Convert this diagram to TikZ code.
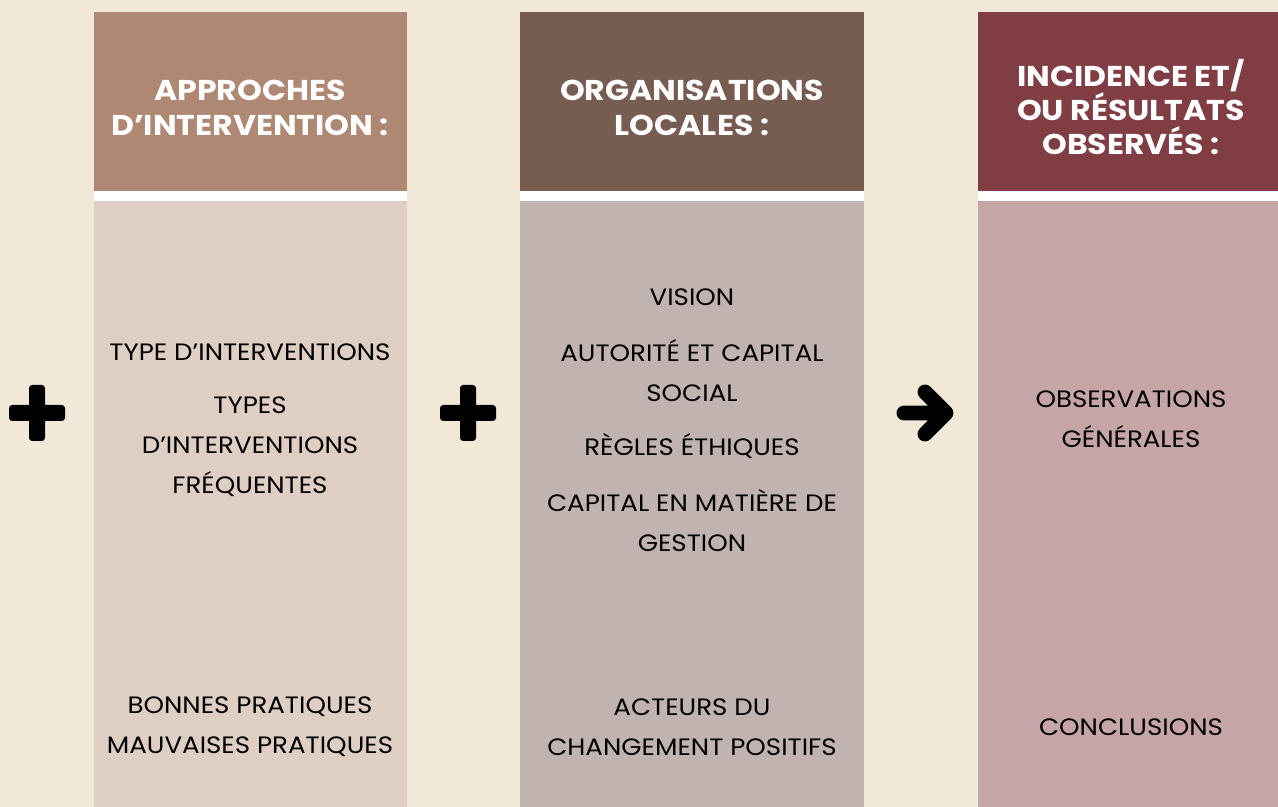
\documentclass[tikz,border=0pt]{standalone}
\usepackage{fontspec}
\setmainfont{Poppins}[FakeStretch=1.1]
\usepackage{tikz}

\definecolor{cream}{HTML}{F2E8D8}
\definecolor{hdA}{HTML}{AE8872}
\definecolor{bodyA}{HTML}{DECEC3}
\definecolor{hdB}{HTML}{775C52}
\definecolor{bodyB}{HTML}{C1B4B0}
\definecolor{hdC}{HTML}{813D44}
\definecolor{bodyC}{HTML}{C5A5A6}

\begin{document}
\begin{tikzpicture}[x=0.02cm,y=-0.02cm,
		hdlbl/.style={align=center,text=white,font=\fontsize{16.3}{19.6}\selectfont\bfseries},
		lbl/.style={align=center,text=black,font=\fontsize{13.5}{22.8}\selectfont},
		sign/.style={line width=8.5pt,line cap=round,line join=round}]
			\fill[cream] (0,0) rectangle (1278,807);
			\useasboundingbox (0,0) rectangle (1278,807);
			\foreach \l/\r/\hc/\bc in {94/407/hdA/bodyA,520/864/hdB/bodyB,978/1278/hdC/bodyC}
			{
				\fill[\hc] (\l,12) rectangle (\r,191);
				\fill[white] (\l,191) rectangle (\r,201);
				\fill[\bc] (\l,201) rectangle (\r,807);
			}
			\node[hdlbl] (hdA) at (250,108) {APPROCHES\\D’INTERVENTION :};
			\node[hdlbl] (hdB) at (692,108) {ORGANISATIONS\\LOCALES :};
			\node[hdlbl] (hdC) at (1131,107) {INCIDENCE ET/\\OU RÉSULTATS\\OBSERVÉS :};
			\node[lbl] (type) at (250,352) {TYPE D’INTERVENTIONS};
			\node[lbl] (freq) at (250,447) {TYPES\\D’INTERVENTIONS\\FRÉQUENTES};
			\node[lbl] (prat) at (250,727) {BONNES PRATIQUES\\MAUVAISES PRATIQUES};
			\node[lbl] (vision) at (692,297) {VISION};
			\node[lbl] (autor) at (692,371) {AUTORITÉ ET CAPITAL\\SOCIAL};
			\node[lbl] (regles) at (692,446) {RÈGLES ÉTHIQUES};
			\node[lbl] (gestion) at (692,521) {CAPITAL EN MATIÈRE DE\\GESTION};
			\node[lbl] (acteurs) at (692,727) {ACTEURS DU\\CHANGEMENT POSITIFS};
			\node[lbl] (obs) at (1131,419) {OBSERVATIONS\\GÉNÉRALES};
			\node[lbl] (concl) at (1131,727) {CONCLUSIONS};
			\foreach \cx in {37,468}
			{
				\fill[rounded corners=1.8pt] (\cx-8,385) rectangle (\cx+8,441);
				\fill[rounded corners=1.8pt] (\cx-28,405) rectangle (\cx+28,421);
			}
			\draw[sign] (904,413) -- (944,413) (925,392) -- (946,413) -- (925,434);
		\end{tikzpicture}
\end{document}
